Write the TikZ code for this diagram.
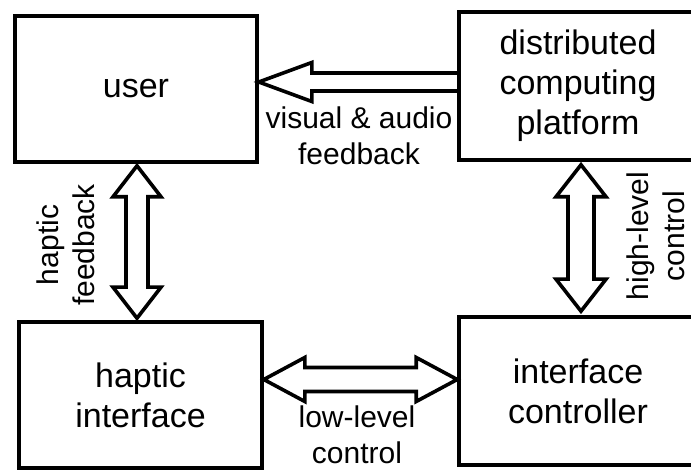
\documentclass[tikz,border=0pt]{standalone}
\usepackage{fontspec}
\setmainfont{Liberation Sans}
\usepackage{tikz}
\usetikzlibrary{calc}

\begin{document}
\begin{tikzpicture}[
    x=1pt, y=1pt,
    box/.style={draw, line width=3.6pt, align=center, inner sep=0pt, font=\fontsize{34}{40}\selectfont},
    fat/.style={draw, line width=3.6pt},
    lbl/.style={align=center, inner sep=0pt, font=\fontsize{30}{36}\selectfont}
]
    \useasboundingbox (0,0) rectangle (691,470);
    \clip (0,0) rectangle (691,470);

    \node (user) [box, minimum width=242pt, minimum height=146pt] at (136,381) {user};
    \node (platform) [box, minimum width=238pt, minimum height=148pt] at (578,384) {distributed\\computing\\platform};
    \node (haptic) [box, minimum width=243pt, minimum height=146pt] at (140.5,75) {haptic\\interface};
    \node (ctrl) [box, minimum width=238pt, minimum height=148pt] at (578,79) {interface\\controller};

    \node (vislbl) [lbl] at (359,334) {visual \& audio\\feedback};
    \node (lowlbl) [lbl] at (357,35) {low-level\\control};
    \node (haplbl) [lbl, rotate=90] at (66,225) {haptic\\feedback};
    \node (highlbl) [lbl, rotate=90] at (655.5,234) {high-level\\control};

    % visual & audio feedback
    \coordinate (va1) at ([yshift=4pt]platform.west);
    \coordinate (va2) at (va1 -| user.east);
    \draw[fat] ($(va1)+(0,9)$) -- ($(va2)+(53,9)$) -- ++(0,10.5) -- (va2) -- ++(53,-19.5) -- ++(0,10.5) -- ($(va1)+(0,-9)$);

    % haptic feedback
    \coordinate (hf1) at ([xshift=1pt,yshift=-2pt]user.south);
    \coordinate (hf2) at ([yshift=2pt]hf1 |- haptic.north);
    \draw[fat] (hf1) -- ++(24,-31) -- ++(-13,0) -- ($(hf2)+(11,31)$) -- ++(13,0) -- (hf2) -- ++(-24,31) -- ++(13,0) -- ($(hf1)+(-11,-31)$) -- ++(-13,0) -- cycle;

    % low-level control
    \coordinate (ll1) at ([yshift=15.5pt]haptic.east);
    \coordinate (ll2) at (ll1 -| ctrl.west);
    \draw[fat] (ll1) -- ++(41,22) -- ++(0,-10) -- ($(ll2)+(-41,12)$) -- ++(0,10) -- (ll2) -- ++(-41,-22) -- ++(0,10) -- ($(ll1)+(41,-12)$) -- ++(0,-10) -- cycle;

    % high-level control
    \coordinate (hl1) at ([xshift=3pt,yshift=-3pt]platform.south);
    \coordinate (hl2) at ([yshift=4pt]hl1 |- ctrl.north);
    \draw[fat] (hl1) -- ++(25,-32) -- ++(-12,0) -- ($(hl2)+(13,32)$) -- ++(12,0) -- (hl2) -- ++(-25,32) -- ++(12,0) -- ($(hl1)+(-13,-32)$) -- ++(-12,0) -- cycle;
\end{tikzpicture}
\end{document}
